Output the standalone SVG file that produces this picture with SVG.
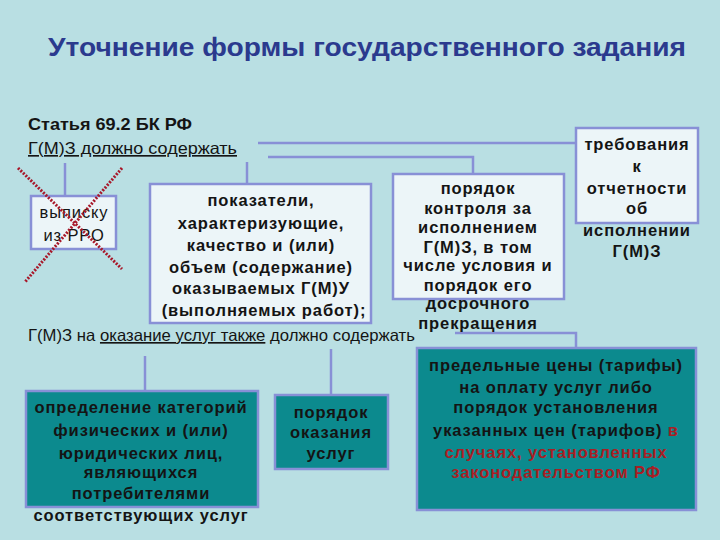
<svg xmlns="http://www.w3.org/2000/svg" width="720" height="540" viewBox="0 0 720 540">
<style>
text{font-family:"Liberation Sans",Arial,sans-serif;fill:#141414}
.t{font-size:16.5px;font-weight:bold;text-anchor:middle;letter-spacing:0.9px}
.n{font-weight:normal}
.b{font-size:16.5px}
.r{fill:#a81e24}
.lt{fill:#ecf5f8;stroke:#8890d6;stroke-width:2.5}
.dk{fill:#0c8a8e;stroke:#8890d6;stroke-width:2.5}
.c{fill:none;stroke:#8890d6;stroke-width:2.5}
.x{stroke:#a8182a;stroke-width:3;stroke-dasharray:2 1.5}
</style>
<rect width="720" height="540" fill="#b9dfe3"/>
<text x="48" y="56" textLength="638" lengthAdjust="spacingAndGlyphs" style="font-size:25px;font-weight:bold;fill:#2b3a8e">Уточнение формы государственного задания</text>
<text class="b" x="28" y="130" textLength="164" lengthAdjust="spacingAndGlyphs" style="font-weight:bold">Статья 69.2 БК РФ</text>
<text class="b" x="28" y="154" textLength="209" lengthAdjust="spacingAndGlyphs" style="text-decoration:underline">Г(М)З должно содержать</text>
<text class="b" x="28" y="341" textLength="387" lengthAdjust="spacingAndGlyphs">Г(М)З на <tspan text-decoration="underline">оказание услуг также</tspan> должно содержать</text>
<g id="connectors">
<path class="c" d="M258 143H577"/>
<path class="c" d="M268 157H473V174"/>
<path class="c" d="M65 163V196"/>
<path class="c" d="M247 162V184"/>
<path class="c" d="M145 356V391"/>
<path class="c" d="M331 349V395"/>
<path class="c" d="M455 333H576V348"/>
</g>
<g id="n-vypiska">
<rect class="lt" x="31" y="196" width="85" height="53"/>
<text class="t n" x="74" y="218">выписку</text>
<text class="t n" x="74" y="241">из РРО</text>
</g>
<g id="n-cross">
<line class="x" x1="18" y1="168" x2="122" y2="269"/>
<line class="x" x1="122" y1="168" x2="25" y2="282"/>
</g>
<g id="n-pokazateli">
<rect class="lt" x="150" y="184" width="221" height="139"/>
<text class="t" x="261" y="206">показатели,</text>
<text class="t" x="261" y="229">характеризующие,</text>
<text class="t" x="261" y="251">качество и (или)</text>
<text class="t" x="261" y="273">объем (содержание)</text>
<text class="t" x="261" y="294">оказываемых Г(М)У</text>
<text class="t" x="264" y="316">(выполняемых работ);</text>
</g>
<g id="n-kontrol">
<rect class="lt" x="393" y="174" width="171" height="125"/>
<text class="t" x="478" y="194">порядок</text>
<text class="t" x="478" y="214">контроля за</text>
<text class="t" x="478" y="233">исполнением</text>
<text class="t" x="478" y="253">Г(М)З, в том</text>
<text class="t" x="478" y="271">числе условия и</text>
<text class="t" x="478" y="291">порядок его</text>
<text class="t" x="478" y="309">досрочного</text>
<text class="t" x="478" y="329">прекращения</text>
</g>
<g id="n-trebovaniya">
<rect class="lt" x="576" y="128" width="122" height="95"/>
<text class="t" x="637" y="150">требования</text>
<text class="t" x="637" y="172">к</text>
<text class="t" x="637" y="194">отчетности</text>
<text class="t" x="637" y="214">об</text>
<text class="t" x="637" y="236">исполнении</text>
<text class="t" x="637" y="257">Г(М)З</text>
</g>
<g id="n-kategorii">
<rect class="dk" x="26" y="391" width="232" height="116"/>
<text class="t" x="141" y="413">определение категорий</text>
<text class="t" x="141" y="436">физических и (или)</text>
<text class="t" x="141" y="459">юридических лиц,</text>
<text class="t" x="141" y="478">являющихся</text>
<text class="t" x="141" y="499">потребителями</text>
<text class="t" x="141" y="521">соответствующих услуг</text>
</g>
<g id="n-poryadok">
<rect class="dk" x="275" y="395" width="113" height="74"/>
<text class="t" x="331" y="418">порядок</text>
<text class="t" x="331" y="438">оказания</text>
<text class="t" x="331" y="459">услуг</text>
</g>
<g id="n-ceny">
<rect class="dk" x="417" y="348" width="279" height="162"/>
<text class="t" x="556" y="371">предельные цены (тарифы)</text>
<text class="t" x="556" y="393">на оплату услуг либо</text>
<text class="t" x="556" y="413">порядок установления</text>
<text class="t" x="556" y="436">указанных цен (тарифов) <tspan class="r">в</tspan></text>
<text class="t r" x="556" y="458">случаях, установленных</text>
<text class="t r" x="556" y="478">законодательством РФ</text>
</g>
</svg>
